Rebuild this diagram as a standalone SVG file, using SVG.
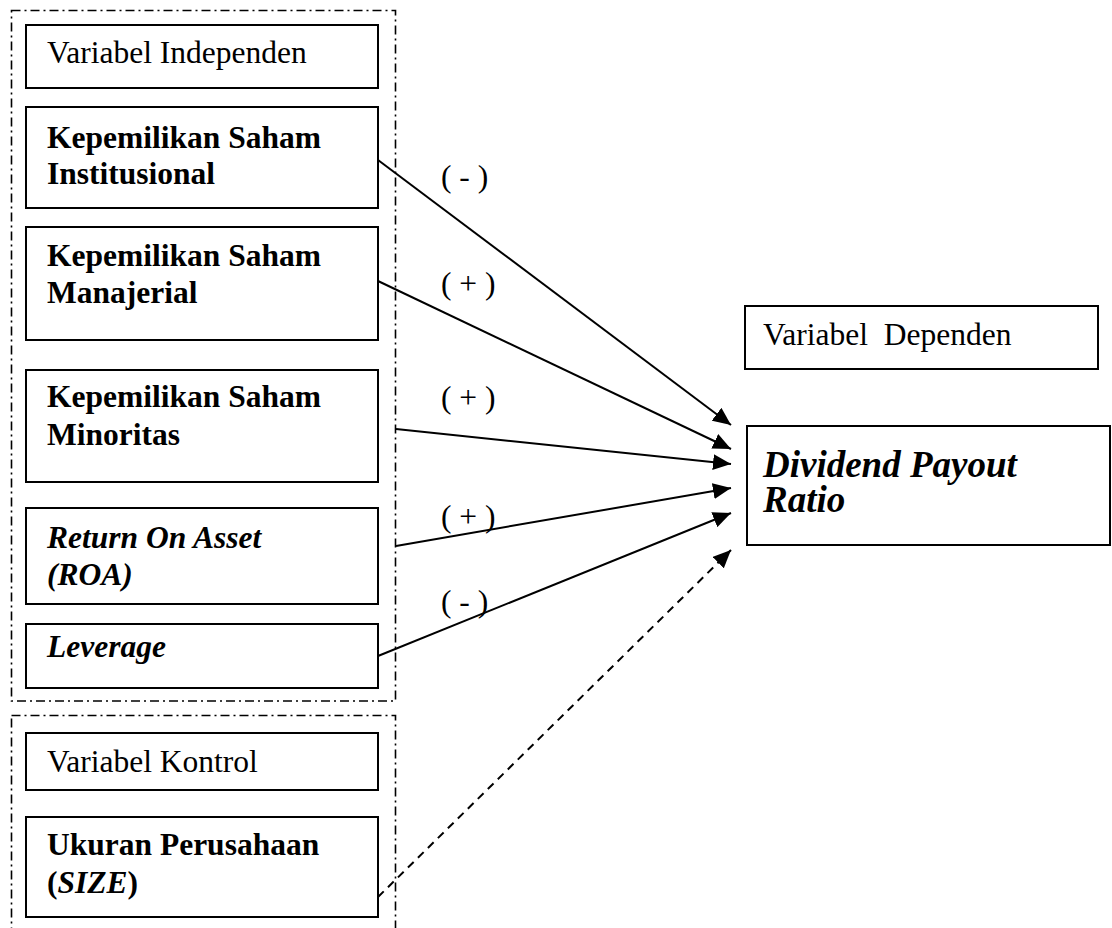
<svg xmlns="http://www.w3.org/2000/svg" width="1112" height="928" viewBox="0 0 1112 928">
<style>
.frame{fill:none;stroke:#000;stroke-width:1.6;stroke-dasharray:9 4 2 4}
.box{fill:#fff;stroke:#000;stroke-width:2}
text{font-family:"Liberation Serif","Times New Roman",serif;font-size:31.5px;fill:#000}
.b{font-weight:bold}
.bi{font-weight:bold;font-style:italic}
.big{font-size:37px}
.conn{stroke:#000;stroke-width:2;fill:none}
.dash{stroke-dasharray:8 6}
</style>
<defs>
<marker id="ah" markerUnits="userSpaceOnUse" markerWidth="20" markerHeight="16" refX="18" refY="8" orient="auto">
<path d="M0,0 L18,8 L0,16 Z" fill="#000"/>
</marker>
</defs>
<rect width="1112" height="928" fill="#fff"/>
<g id="frame-independen"><rect class="frame" x="11.5" y="10.5" width="384" height="690.5"/></g>
<g id="frame-kontrol"><rect class="frame" x="11.5" y="715.5" width="384" height="230"/></g>

<g id="connectors">
<line class="conn" x1="378" y1="160" x2="731" y2="425" marker-end="url(#ah)"/>
<line class="conn" x1="378" y1="281" x2="731" y2="449" marker-end="url(#ah)"/>
<line class="conn" x1="396" y1="429" x2="731" y2="464" marker-end="url(#ah)"/>
<line class="conn" x1="396" y1="546" x2="731" y2="488" marker-end="url(#ah)"/>
<line class="conn" x1="378" y1="656" x2="731" y2="513" marker-end="url(#ah)"/>
<line class="conn dash" x1="378" y1="897" x2="731" y2="550" marker-end="url(#ah)"/>
<text x="441" y="187">( - )</text>
<text x="441" y="294">( + )</text>
<text x="441" y="408">( + )</text>
<text x="441" y="527">( + )</text>
<text x="441" y="612">( - )</text>
</g>

<g id="n-independen"><rect class="box" x="26" y="25" width="352" height="63"/><text x="47" y="63">Variabel Independen</text></g>
<g id="n-institusional"><rect class="box" x="26" y="107" width="352" height="101"/><text class="b" x="47" y="148">Kepemilikan Saham</text><text class="b" x="47" y="184">Institusional</text></g>
<g id="n-manajerial"><rect class="box" x="26" y="227" width="352" height="113"/><text class="b" x="47" y="266">Kepemilikan Saham</text><text class="b" x="47" y="303">Manajerial</text></g>
<g id="n-minoritas"><rect class="box" x="26" y="370" width="352" height="112"/><text class="b" x="47" y="407">Kepemilikan Saham</text><text class="b" x="47" y="445">Minoritas</text></g>
<g id="n-roa"><rect class="box" x="26" y="508" width="352" height="96"/><text class="bi" x="47" y="548">Return On Asset</text><text class="bi" x="47" y="585">(ROA)</text></g>
<g id="n-leverage"><rect class="box" x="26" y="624" width="352" height="64"/><text class="bi" x="47" y="657">Leverage</text></g>
<g id="n-kontrol"><rect class="box" x="26" y="733" width="352" height="57"/><text x="47" y="772">Variabel Kontrol</text></g>
<g id="n-size"><rect class="box" x="26" y="817" width="352" height="100"/><text class="b" x="47" y="855">Ukuran Perusahaan</text><text class="b" x="47" y="893">(<tspan font-style="italic">SIZE</tspan>)</text></g>

<g id="n-dependen"><rect class="box" x="745" y="306" width="353" height="63"/><text x="763" y="345" xml:space="preserve">Variabel  Dependen</text></g>
<g id="n-dpr"><rect class="box" x="747" y="426" width="363" height="119"/><text class="bi big" x="763" y="477">Dividend Payout</text><text class="bi big" x="763" y="512">Ratio</text></g>
</svg>
